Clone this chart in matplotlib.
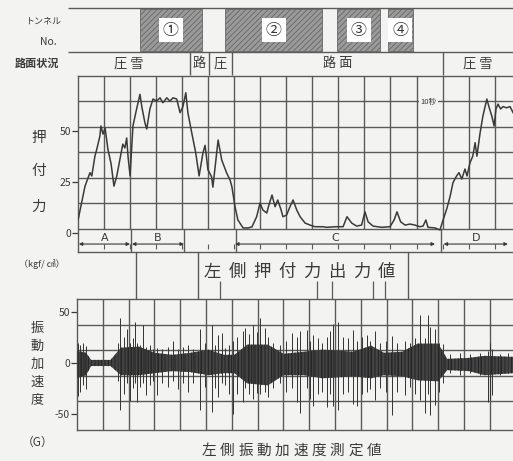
import matplotlib.pyplot as plt
from matplotlib.patches import Rectangle

plt.rcParams['font.family'] = ['Noto Sans CJK JP', 'DejaVu Sans']
plt.rcParams['axes.unicode_minus'] = False
plt.rcParams['hatch.linewidth'] = 0.6

# 左側押付力 (kgf/cm2), time in s (one grid = 10 s)
force_t = [0.1, 1.4, 2.7, 4.6, 5.3, 6.5, 7.2, 8.4, 8.8, 9.6, 10.4, 11.5, 12.7, 13.8,
           14.9, 16.1, 17.2, 18.0, 18.7, 19.2, 20.0, 20.6, 21.1, 22.5, 23.8, 24.5,
           25.7, 26.4, 27.6, 28.8, 30.2, 31.5, 32.6, 34.1, 35.3, 36.5, 37.9, 39.2,
           40.3, 41.4, 42.2, 43.7, 45.2, 46.5, 48.0, 48.8, 49.9, 51.3, 51.8, 53.8,
           55.2, 57.1, 58.4, 59.1, 60.3, 61.4, 63.4, 65.3, 66.8, 68.6, 69.9, 71.0,
           72.5, 73.3, 74.5, 75.7, 76.7, 78.0, 78.7, 80.1, 81.4, 82.6, 84.0, 85.3,
           87.2, 89.1, 91.0, 94.1, 95.5, 98.7, 101.8, 103.3, 105.1, 107.0, 108.9,
           110.2, 111.4, 113.3, 116.6, 119.8, 121.4, 122.5, 123.9, 125.6, 127.5,
           129.4, 131.3, 132.5, 133.6, 134.4, 137.1, 139.0, 140.2, 141.6, 142.9,
           144.0, 145.4, 146.3, 147.4, 148.6, 149.4, 150.5, 151.6, 152.5, 153.2,
           154.4, 155.5, 157.0, 157.8, 158.9, 159.8, 160.5, 161.3, 162.3, 163.2,
           164.6, 165.9, 167.1]
force_v = [6.9, 14.9, 23.0, 29.6, 28.0, 37.7, 41.0, 47.5, 52.5, 48.5, 51.5, 41.0, 34.0, 23.0,
           28.0, 36.0, 43.6, 41.7, 46.6, 37.7, 28.0, 41.0, 52.5, 60.8, 68.0, 62.0,
           54.0, 51.0, 60.8, 65.7, 64.7, 66.3, 63.9, 66.3, 64.7, 66.3, 65.7, 59.0,
           62.0, 68.8, 59.0, 49.0, 39.4, 28.0, 39.4, 43.0, 31.0, 27.6, 22.5, 45.6,
           35.8, 29.4, 26.0, 22.7, 12.9, 6.4, 2.5, 2.5, 3.0, 8.0, 14.7, 11.3,
           9.8, 13.7, 18.6, 12.9, 16.2, 11.3, 8.0, 8.8, 12.9, 16.2, 11.3, 8.0,
           4.9, 3.9, 3.1, 3.1, 2.8, 3.1, 3.1, 8.0, 4.9, 3.4, 3.9,
           10.4, 5.5, 3.4, 2.8, 3.1, 6.4, 10.4, 5.5, 3.9, 4.4,
           3.9, 3.1, 3.4, 6.4, 2.8, 2.5, 1.5, 6.4, 11.8, 18.0,
           24.7, 28.0, 29.6, 26.5, 31.4, 28.0, 34.3, 37.7, 44.3, 37.7,
           49.0, 57.4, 65.7, 62.0, 57.4, 52.5, 60.8, 63.2, 60.8, 62.0,
           61.4, 62.0, 59.0]

# 左側振動加速度 (G): dense band envelope
vib_env_t = [0.0, 3.5, 5.5, 13.0, 17.0, 24.0, 30.0, 37.0, 44.0, 51.0, 57.0, 61.0,
             66.0, 74.0, 80.0, 88.0, 95.0, 102.0, 107.0, 114.0, 119.0, 126.0, 132.0,
             140.0, 143.5, 152.0, 158.0, 169.0]
vib_env_up = [12, 10, 3, 3, 15, 16, 10, 8, 10, 13, 8, 8,
              18, 18, 9, 11, 13, 12, 11, 17, 10, 11, 19,
              19, 4, 5, 7, 6]
vib_env_lo = [-15, -12, -3, -3, -12, -12, -10, -8, -9, -12, -10, -10,
              -20, -22, -12, -12, -15, -14, -13, -15, -12, -13, -17,
              -18, -7, -8, -12, -10]
# single peaks
spike_t = [0.4, 1.2, 2.3, 3.5, 15.9, 16.7, 18.2, 19.4, 20.5, 21.7, 22.5, 23.3, 24.4,
           25.6, 26.7, 28.3, 29.5, 31.0, 32.9, 35.3, 37.2, 39.1, 41.1, 43.0, 45.0,
           47.7, 49.6, 52.2, 53.5, 54.7, 56.1, 57.4, 58.9, 60.5, 62.0, 64.3, 65.1,
           66.7, 68.2, 69.8, 70.9, 72.9, 74.0, 76.0, 78.7, 81.0, 83.2, 85.3, 86.4,
           89.0, 90.3, 91.5, 93.4, 95.0, 96.8, 98.1, 99.2, 101.2, 103.1, 105.0,
           107.0, 108.5, 110.5, 112.3, 113.6, 115.5, 117.4, 119.8, 122.0, 124.0,
           127.1, 129.1, 131.0, 132.9, 134.9, 136.0, 136.8, 138.8, 140.3, 141.9,
           144.6, 148.4, 152.3, 156.2, 159.3, 160.1, 160.9, 164.0, 167.1]
spike_top = [20, 18, 20, 17, 20, 44, 25, 33, 20, 24, 40, 20, 18,
             37, 16, 18, 14, 15, 14, 16, 22, 14, 16, 18, 14,
             33, 20, 37, 18, 27, 29, 15, 18, 22, 25, 31, 34,
             28, 37, 30, 44, 34, 25, 20, 18, 22, 29, 25, 31,
             32, 22, 27, 24, 20, 25, 31, 38, 40, 25, 24,
             32, 22, 25, 27, 22, 31, 20, 22, 26, 20,
             22, 20, 24, 47, 24, 47, 35, 33, 20, 19,
             9, 10, 9, 10, 12, 20, 14, 9, 10]
spike_bot = [-32, -28, -22, -26, -18, -46, -30, -20, -37, -25, -20, -38, -24,
             -20, -31, -22, -18, -31, -20, -24, -18, -26, -20, -28, -20,
             -46, -24, -48, -25, -33, -20, -22, -30, -50, -30, -38, -25,
             -30, -35, -29, -30, -28, -33, -25, -20, -28, -25, -38, -49,
             -25, -35, -42, -30, -28, -43, -30, -42, -46, -30, -28,
             -40, -42, -30, -28, -26, -36, -25, -28, -51, -28,
             -31, -24, -30, -36, -49, -30, -51, -41, -28, -20,
             -10, -12, -10, -12, -38, -36, -31, -12, -10]

tunnel_no = ['①', '②', '③', '④']
tunnel_start = [23.8, 56.5, 99.5, 119.0]
tunnel_end = [47.6, 93.7, 116.0, 128.6]

road_labels = ['圧 雪', '路', '圧', '路 面', '圧 雪']
road_edges = [-3.8, 43.0, 50.3, 59.1, 140.2, 167.1]

zone_labels = ['A', 'B', 'C', 'D']
zone_start = [0.3, 20.7, 60.3, 140.4]
zone_end = [20.0, 40.7, 137.1, 165.1]
zone_bounds = [20.2, 40.7, 60.7, 139.4]

marker_t = [54.5, 91.8, 97.5, 113.3, 117.9]
frame_t = [22.3, 46.1, 126.7]

BG = '#f3f3f1'
INK = '#3a3a3a'
GRID = '#5a5a5a'
W, H = 513, 461

fig = plt.figure(figsize=(W / 100, H / 100), dpi=100, facecolor=BG)


def box(x0, y0, x1, y1):
    return fig.add_axes([x0 / W, 1 - y1 / H, (x1 - x0) / W, (y1 - y0) / H])


def ftext(x, y, s, **kw):
    kw.setdefault('color', INK)
    fig.text(x / W, 1 - y / H, s, ha='center', va='center', **kw)


# header and connecting frame, x in s of upper chart, y in pixels
deco = box(0, 0, W, H)
deco.set_xlim(-78 / 2.604, 435 / 2.604)
deco.set_ylim(H, 0)
deco.axis('off')
deco.hlines([8, 52.5], road_edges[0], road_edges[-1], color=GRID, lw=1.0)
for s, e, no in zip(tunnel_start, tunnel_end, tunnel_no):
    deco.add_patch(Rectangle((s, 9.5), e - s, 42, facecolor='#9a9a9a',
                             edgecolor='#666666', hatch='//////', lw=0.6))
    deco.text((s + e) / 2, 30, no, ha='center', va='center', fontsize=11.5, color=INK,
              bbox=dict(boxstyle='square,pad=0.25', fc='white', ec='none'))
deco.vlines(road_edges[1:-1], 52.5, 75, color=GRID, lw=1.0)
for i, lab in enumerate(road_labels):
    deco.text((road_edges[i] + road_edges[i + 1]) / 2, 64, lab, ha='center',
              va='center', fontsize=9.5, color=INK)
deco.vlines(frame_t, 252, 299, color=GRID, lw=1.0)
deco.vlines(marker_t, 281, 299, color=GRID, lw=0.9)

ftext(43, 21, 'トンネル', fontsize=6.5)
ftext(48, 42, 'No.', fontsize=7.5)
ftext(37, 63, '路面状況', fontsize=8, fontweight='bold')
for ch, y in zip('押付力', [138, 171, 207]):
    ftext(39, y, ch, fontsize=10.5)
ftext(42, 264, '（kgf/ ㎠）', fontsize=6.5)
for i, ch in enumerate('左側押付力出力値'):
    ftext(212 + 24.9 * i, 272, ch, fontsize=12.5)
for ch, y in zip('振動加速度', [328, 346, 364, 382, 400]):
    ftext(37, y, ch, fontsize=9.5)
ftext(38, 442, '（G）', fontsize=8.5)
for i, ch in enumerate('左側振動加速度測定値'):
    ftext(209 + 18.3 * i, 451, ch, fontsize=10.5)

# upper chart: 押付力
ax1 = box(78, 76, 513, 252)
ax1.set_facecolor('none')
ax1.set_xlim(0, 167.05)
ax1.set_ylim(-9.3, 77)
grid_t = list(range(10, 170, 10))
ax1.vlines(grid_t, 2, 77, color=GRID, lw=1.0)
ax1.hlines([2, 14.5, 27, 39.5, 52, 64.5], 0, 167.05, color=GRID, lw=1.0)
ax1.vlines(grid_t, -7.6, -5.4, color=GRID, lw=0.8)
ax1.vlines(zone_bounds, -9.3, 2, color=GRID, lw=1.0)
ax1.plot(force_t, force_v, color=INK, lw=1.1, zorder=3)
for s, e, lab in zip(zone_start, zone_end, zone_labels):
    ax1.annotate('', xy=(s, -5.4), xytext=(e, -5.4),
                 arrowprops=dict(arrowstyle='<|-|>', color=INK, lw=0.8,
                                 mutation_scale=5, shrinkA=0, shrinkB=0))
    ax1.text((s + e) / 2, -2.6, lab, ha='center', va='center', fontsize=8, color=INK,
             family='DejaVu Sans')
ax1.text(134.6, 64.5, '10秒', ha='center', va='center', fontsize=5.5, color=INK,
         bbox=dict(boxstyle='square,pad=0.2', fc=BG, ec='none'))
ax1.set_xticks([])
ax1.set_yticks([0, 25, 50])
ax1.tick_params(axis='y', direction='out', length=4, width=0.9, pad=1,
                labelsize=7.5, colors=INK)
for side in ['left', 'top', 'bottom']:
    ax1.spines[side].set_color(GRID)
    ax1.spines[side].set_linewidth(1.0)
ax1.spines['right'].set_visible(False)

# lower chart: 振動加速度
ax2 = box(77, 299, 513, 430)
ax2.set_facecolor('none')
ax2.set_xlim(0, 169.0)
ax2.set_ylim(-65.7, 62.7)
ax2.vlines(grid_t, -65.7, 62.7, color=GRID, lw=1.0)
ax2.hlines([-37.5, -12.5, 12.5, 37.5], 0, 169.0, color=GRID, lw=1.0)
ax2.fill_between(vib_env_t, vib_env_lo, vib_env_up, facecolor='#444444',
                 edgecolor='#1e1e1e', hatch='|||||', lw=0, zorder=3)
ax2.vlines(spike_t, spike_bot, spike_top, color='#333333', lw=0.7, zorder=3)
ax2.set_xticks([])
ax2.set_yticks([-50, 0, 50])
ax2.tick_params(axis='y', direction='out', length=4, width=0.9, pad=1,
                labelsize=7.5, colors=INK)
for side in ['left', 'top', 'bottom']:
    ax2.spines[side].set_color(GRID)
    ax2.spines[side].set_linewidth(1.0)
ax2.spines['right'].set_visible(False)

fig.savefig('out.png', dpi=100, facecolor=BG)
